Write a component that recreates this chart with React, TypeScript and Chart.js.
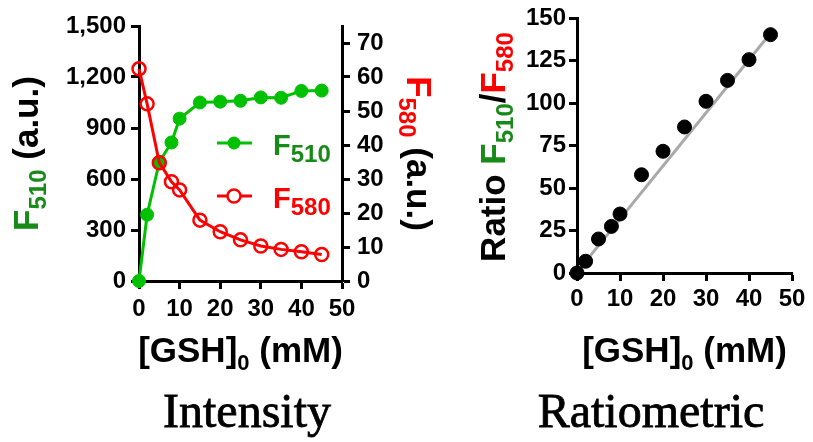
import React, { useEffect, useRef } from "react";
import { Chart, registerables } from "chart.js";

Chart.register(...registerables);

// ---- data ----
const gsh = [0, 2, 5, 8, 10, 15, 20, 25, 30, 35, 40, 45];
const f510 = [0, 390, 700, 815, 955, 1050, 1055, 1060, 1080, 1078, 1118, 1120];
const f580 = [62.4, 52.1, 34.8, 29.2, 26.8, 17.9, 14.5, 12.1, 10.3, 9.3, 8.6, 7.8];
const ratio = [0, 6.9, 20, 27.4, 34.7, 57.8, 71.6, 85.9, 101, 113.3, 125.5, 140.2];
const fitX = [0, 45];
const fitY = [0.5, 141];
const xTicks = [0, 10, 20, 30, 40, 50];
const yLeftTicks = [0, 300, 600, 900, 1200, 1500];
const yRightTicks = [0, 10, 20, 30, 40, 50, 60, 70];
const yRatioTicks = [0, 25, 50, 75, 100, 125, 150];

// ---- styles ----
const GREEN = "#00c000";
const GREEN_TXT = "#178a17";
const RED = "#ff0000";
const SANS = '"Liberation Sans", Arial, sans-serif';
const SERIF = '"Liberation Serif", "Times New Roman", serif';
const tickFont = { family: SANS, size: 24, weight: "bold" as const };

type Seg = { t: string; c: string; s: number; dy?: number };

function segFont(s: number) {
  return `bold ${s}px ${SANS}`;
}

function drawRich(ctx: CanvasRenderingContext2D, segs: Seg[], cx: number, cy: number, rot: number) {
  ctx.save();
  ctx.translate(cx, cy);
  ctx.rotate(rot);
  ctx.textAlign = "left";
  ctx.textBaseline = "alphabetic";
  let w = 0;
  for (const g of segs) {
    ctx.font = segFont(g.s);
    w += ctx.measureText(g.t).width;
  }
  let x = -w / 2;
  for (const g of segs) {
    ctx.font = segFont(g.s);
    ctx.fillStyle = g.c;
    ctx.fillText(g.t, x, g.dy || 0);
    x += ctx.measureText(g.t).width;
  }
  ctx.restore();
}

function drawCaption(ctx: CanvasRenderingContext2D, text: string, x: number, y: number) {
  ctx.save();
  ctx.font = `48px ${SERIF}`;
  ctx.fillStyle = "#000";
  ctx.strokeStyle = "#000";
  ctx.lineWidth = 0.8;
  ctx.textAlign = "center";
  ctx.textBaseline = "alphabetic";
  ctx.fillText(text, x, y);
  ctx.strokeText(text, x, y);
  ctx.restore();
}

function makeAxis(ticksArr: number[], min: number, max: number, position: string, fit: (s: any) => void, pad: number) {
  return {
    type: "linear" as const,
    position,
    min,
    max,
    afterBuildTicks: (s: any) => {
      s.ticks = ticksArr.map((v) => ({ value: v }));
    },
    afterFit: fit,
    grid: {
      display: true,
      drawOnChartArea: false,
      drawTicks: true,
      tickLength: 8,
      tickWidth: 3,
      tickColor: "#000",
      color: "#000",
    },
    border: { display: true, color: "#000", width: 3 },
    ticks: {
      color: "#000",
      font: tickFont,
      padding: pad,
      maxRotation: 0,
      autoSkip: false,
      callback: (v: any) => Number(v).toLocaleString("en-US"),
    },
  };
}

function IntensityChart() {
  const ref = useRef<HTMLCanvasElement>(null);
  useEffect(() => {
    const canvas = ref.current!;
    const deco = {
      id: "deco1",
      afterDraw(chart: any) {
        const ctx: CanvasRenderingContext2D = chart.ctx;
        const { left, right, top, bottom } = chart.chartArea;
        const cx = (left + right) / 2;
        const cy = (top + bottom) / 2;
        // left y title
        drawRich(
          ctx,
          [
            { t: "F", c: GREEN_TXT, s: 35 },
            { t: "510", c: GREEN_TXT, s: 24, dy: 8 },
            { t: " (a.u.)", c: "#000", s: 35 },
          ],
          left - 101,
          cy,
          -Math.PI / 2
        );
        // right y title
        drawRich(
          ctx,
          [
            { t: "F", c: RED, s: 35 },
            { t: "580", c: RED, s: 24, dy: 8 },
            { t: " (a.u.)", c: "#000", s: 35 },
          ],
          right + 65,
          cy,
          Math.PI / 2
        );
        // x title
        drawRich(
          ctx,
          [
            { t: "[GSH]", c: "#000", s: 35 },
            { t: "0", c: "#000", s: 22, dy: 8 },
            { t: " (mM)", c: "#000", s: 35 },
          ],
          cx,
          bottom + 81,
          0
        );
        // legend
        const rows = [
          { y: top + 117, col: GREEN, txt: GREEN_TXT, sub: "510", filled: true },
          { y: top + 170, col: RED, txt: RED, sub: "580", filled: false },
        ];
        for (const r of rows) {
          ctx.save();
          ctx.strokeStyle = r.col;
          ctx.lineWidth = 3;
          ctx.beginPath();
          ctx.moveTo(left + 78, r.y);
          ctx.lineTo(left + 113, r.y);
          ctx.stroke();
          ctx.beginPath();
          ctx.arc(left + 95, r.y, 6.5, 0, Math.PI * 2);
          if (r.filled) {
            ctx.fillStyle = r.col;
            ctx.fill();
          } else {
            ctx.fillStyle = "#fff";
            ctx.fill();
            ctx.lineWidth = 2.5;
            ctx.stroke();
          }
          ctx.textAlign = "left";
          ctx.textBaseline = "alphabetic";
          ctx.fillStyle = r.txt;
          ctx.font = segFont(29);
          ctx.fillText("F", left + 134, r.y + 12);
          const fw = ctx.measureText("F").width;
          ctx.font = segFont(24);
          ctx.fillText(r.sub, left + 134 + fw, r.y + 19);
          ctx.restore();
        }
        drawCaption(ctx, "Intensity", cx + 6.5, 427);
      },
    };
    const chart = new Chart(canvas, {
      type: "line",
      data: {
        datasets: [
          {
            label: "F510",
            data: gsh.map((x, i) => ({ x, y: f510[i] })),
            yAxisID: "y",
            borderColor: GREEN,
            backgroundColor: GREEN,
            borderWidth: 3,
            pointRadius: 6.5,
            pointBackgroundColor: GREEN,
            pointBorderColor: GREEN,
            pointBorderWidth: 1,
            tension: 0,
            clip: false as any,
            order: 2,
          },
          {
            label: "F580",
            data: gsh.map((x, i) => ({ x, y: f580[i] })),
            yAxisID: "y1",
            borderColor: RED,
            backgroundColor: RED,
            borderWidth: 3,
            pointRadius: 6.5,
            pointBackgroundColor: "rgba(255,255,255,0)",
            pointBorderColor: RED,
            pointBorderWidth: 2.5,
            tension: 0,
            clip: false as any,
            order: 1,
          },
        ],
      },
      options: {
        responsive: false,
        animation: false,
        layout: { padding: { top: 26, left: 0, right: 0, bottom: 0 } },
        plugins: { legend: { display: false }, tooltip: { enabled: false } },
        scales: {
          x: makeAxis(xTicks, 0, 50, "bottom", (s: any) => { s.height = 161; }, 6) as any,
          y: makeAxis(yLeftTicks, 0, 1500, "left", (s: any) => { s.width = 139; }, 5) as any,
          y1: makeAxis(yRightTicks, 0, 75, "right", (s: any) => { s.width = 108; }, 7) as any,
        },
      },
      plugins: [deco],
    });
    return () => chart.destroy();
  }, []);
  return (
    <canvas
      ref={ref}
      width={450}
      height={442}
      style={{ position: "absolute", left: 0, top: 0, width: 450, height: 442, display: "block" }}
    />
  );
}

function RatioChart() {
  const ref = useRef<HTMLCanvasElement>(null);
  useEffect(() => {
    const canvas = ref.current!;
    const deco = {
      id: "deco2",
      afterDraw(chart: any) {
        const ctx: CanvasRenderingContext2D = chart.ctx;
        const { left, right, top, bottom } = chart.chartArea;
        const cx = (left + right) / 2;
        const cy = (top + bottom) / 2;
        drawRich(
          ctx,
          [
            { t: "Ratio ", c: "#000", s: 35 },
            { t: "F", c: GREEN_TXT, s: 35 },
            { t: "510", c: GREEN_TXT, s: 24, dy: 8 },
            { t: "/", c: "#000", s: 35 },
            { t: "F", c: RED, s: 35 },
            { t: "580", c: RED, s: 24, dy: 8 },
          ],
          left - 72,
          cy + 1.5,
          -Math.PI / 2
        );
        drawRich(
          ctx,
          [
            { t: "[GSH]", c: "#000", s: 35 },
            { t: "0", c: "#000", s: 22, dy: 8 },
            { t: " (mM)", c: "#000", s: 35 },
          ],
          cx,
          bottom + 89,
          0
        );
        drawCaption(ctx, "Ratiometric", cx - 33.5, 427);
      },
    };
    const chart = new Chart(canvas, {
      type: "line",
      data: {
        datasets: [
          {
            label: "fit",
            data: fitX.map((x, i) => ({ x, y: fitY[i] })),
            borderColor: "#a9a9a9",
            borderWidth: 3,
            pointRadius: 0,
            tension: 0,
            clip: false as any,
            order: 2,
          },
          {
            label: "ratio",
            data: gsh.map((x, i) => ({ x, y: ratio[i] })),
            showLine: false,
            borderColor: "#000",
            backgroundColor: "#000",
            pointRadius: 7,
            pointBackgroundColor: "#000",
            pointBorderColor: "#000",
            pointBorderWidth: 1,
            clip: false as any,
            order: 1,
          },
        ],
      },
      options: {
        responsive: false,
        animation: false,
        layout: { padding: { top: 18, left: 0, right: 21, bottom: 0 } },
        plugins: { legend: { display: false }, tooltip: { enabled: false } },
        scales: {
          x: makeAxis(xTicks, 0, 50, "bottom", (s: any) => { s.height = 169; }, 4) as any,
          y: makeAxis(yRatioTicks, 0, 150, "left", (s: any) => { s.width = 127; }, 3) as any,
        },
      },
      plugins: [deco],
    });
    return () => chart.destroy();
  }, []);
  return (
    <canvas
      ref={ref}
      width={363}
      height={442}
      style={{ position: "absolute", left: 450, top: 0, width: 363, height: 442, display: "block" }}
    />
  );
}

export default function App() {
  return (
    <div style={{ position: "fixed", left: 0, top: 0, width: 813, height: 442, background: "#fff", overflow: "hidden" }}>
      <IntensityChart />
      <RatioChart />
    </div>
  );
}
